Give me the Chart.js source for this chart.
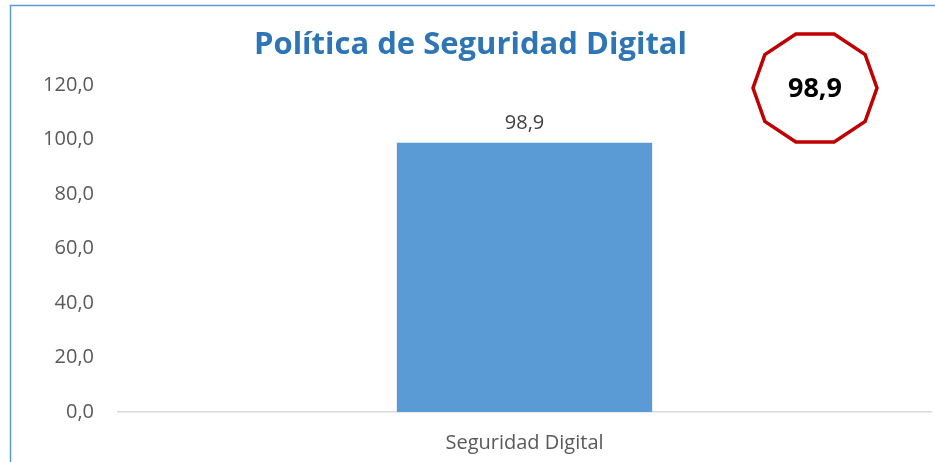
<!DOCTYPE html>
<html>
<head>
    <meta charset="utf-8">
    <script src="https://cdn.jsdelivr.net/npm/chart.js@4.4.1/dist/chart.umd.min.js"></script>
    <style>
        html, body { margin: 0; padding: 0; background: #fff; overflow: hidden; }
        #wrap { width: 935px; height: 462px; }
    </style>
</head>
<body>
    <div id="wrap"><canvas id="barChart" width="935" height="462"></canvas></div>
    <script>
        const categories = ['Seguridad Digital'];
        const values = [98.9];
        const yTicks = [0, 20, 40, 60, 80, 100, 120];
        const badgeValue = 98.9;

        const fmt = v => v.toFixed(1).replace('.', ',');
        const FONT = "'Open Sans', sans-serif";

        // marco azul, etiqueta del dato y el decágono rojo
        const extras = {
            id: 'extras',
            beforeDraw(chart) {
                const c = chart.ctx;
                c.save();
                c.strokeStyle = '#5B9BD5';
                c.lineWidth = 1.5;
                c.strokeRect(10.5, 5.5, 1000, 1000);
                c.restore();
            },
            afterDatasetsDraw(chart) {
                const c = chart.ctx;
                const meta = chart.getDatasetMeta(0);
                c.save();
                c.font = '20px ' + FONT;
                c.fillStyle = '#404040';
                c.textAlign = 'center';
                c.textBaseline = 'middle';
                meta.data.forEach((bar, i) => {
                    c.fillText(fmt(values[i]), bar.x, bar.y - 19);
                });

                // decágono
                const cx = chart.chartArea.right - 116, cy = 88, rx = 62, ry = 54;
                c.beginPath();
                for (let k = 0; k < 10; k++) {
                    const a = k * Math.PI / 5;
                    const px = cx + rx * Math.cos(a), py = cy - ry * Math.sin(a) / Math.sin(2 * Math.PI / 5);
                    if (k === 0) c.moveTo(px, py); else c.lineTo(px, py);
                }
                c.closePath();
                c.fillStyle = '#fff';
                c.fill();
                c.strokeStyle = '#C00000';
                c.lineWidth = 3.5;
                c.stroke();
                c.font = 'bold 27px ' + FONT;
                c.fillStyle = '#000';
                c.fillText(fmt(badgeValue), cx, cy + 1);
                c.restore();
            }
        };

        new Chart(document.getElementById('barChart'), {
            type: 'bar',
            data: {
                labels: categories,
                datasets: [{
                    data: values,
                    backgroundColor: '#5B9BD5',
                    barPercentage: 0.314,
                    categoryPercentage: 1
                }]
            },
            options: {
                responsive: false,
                animation: false,
                layout: { padding: { left: 10, right: 4, top: 0, bottom: 8 } },
                plugins: {
                    legend: { display: false },
                    tooltip: { enabled: false },
                    title: {
                        display: true,
                        text: 'Política de Seguridad Digital',
                        color: '#2E75B6',
                        font: { family: FONT, size: 31, weight: 'bold' },
                        padding: { top: 27, bottom: 21 }
                    }
                },
                scales: {
                    x: {
                        afterFit(scale) { scale.height = 42; },
                        grid: { display: false },
                        border: { display: true, color: '#D9D9D9', width: 1.5 },
                        ticks: { color: '#595959', font: { family: FONT, size: 20 }, padding: 11 }
                    },
                    y: {
                        min: 0,
                        max: 120,
                        afterBuildTicks(scale) { scale.ticks = yTicks.map(v => ({ value: v })); },
                        afterFit(scale) { scale.width = 108; },
                        grid: { display: false },
                        border: { display: false },
                        ticks: {
                            color: '#595959',
                            font: { family: FONT, size: 20 },
                            padding: 16,
                            callback: v => fmt(v)
                        }
                    }
                }
            },
            plugins: [extras]
        });
    </script>
</body>
</html>
